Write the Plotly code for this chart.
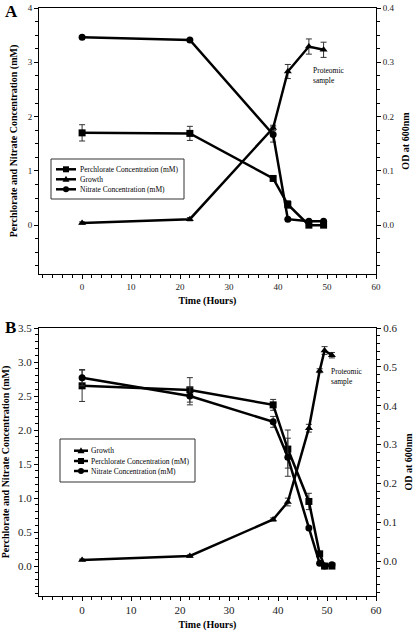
import plotly.graph_objects as go

# ---------------- Panel A data ----------------
time_a = [0, 22, 39, 42, 46.3, 49.3]
perchlorate_a = [1.70, 1.69, 0.86, 0.38, 0.0, 0.0]
perchlorate_a_err = [0.15, 0.13, 0.03, 0.07, 0.0, 0.0]
nitrate_a = [3.46, 3.41, 1.67, 0.11, 0.07, 0.07]
nitrate_a_err = [0.0, 0.0, 0.14, 0.0, 0.0, 0.0]
growth_a = [0.004, 0.011, 0.179, 0.283, 0.329, 0.323]
growth_a_err = [0.002, 0.003, 0.005, 0.013, 0.014, 0.014]

# ---------------- Panel B data ----------------
time_b = [0, 22, 39, 42, 46.3, 48.5, 49.5, 51]
perchlorate_b = [2.65, 2.59, 2.37, 1.72, 0.95, 0.18, 0.0, 0.0]
perchlorate_b_err = [0.23, 0.18, 0.08, 0.28, 0.12, 0.03, 0.0, 0.0]
nitrate_b = [2.77, 2.50, 2.12, 1.60, 0.56, 0.04, 0.0, 0.02]
nitrate_b_err = [0.12, 0.13, 0.08, 0.28, 0.02, 0.0, 0.0, 0.0]
growth_b = [0.003, 0.013, 0.107, 0.152, 0.342, 0.490, 0.542, 0.530]
growth_b_err = [0.002, 0.003, 0.004, 0.010, 0.010, 0.005, 0.010, 0.007]

legend_a_labels = ["Perchlorate Concentration (mM)", "Growth", "Nitrate Concentration (mM)"]
legend_b_labels = ["Growth", "Perchlorate Concentration (mM)", "Nitrate Concentration (mM)"]

W, H = 416, 631
FONT = "Liberation Serif"


def px_x(p):
    return p / W


def px_y(p):
    return 1 - p / H


def trace(x, y, err, name, symbol, xa, ya):
    return go.Scatter(
        x=x, y=y, name=name, mode="lines+markers",
        xaxis=xa, yaxis=ya, showlegend=False,
        line=dict(color="black", width=2.5),
        marker=dict(symbol=symbol, size=7, color="black"),
        error_y=dict(type="data", array=err, visible=True,
                     color="#333333", thickness=1, width=3),
    )


fig = go.Figure()
fig.add_trace(trace(time_a, perchlorate_a, perchlorate_a_err, legend_a_labels[0], "square", "x", "y"))
fig.add_trace(trace(time_a, growth_a, growth_a_err, legend_a_labels[1], "triangle-up", "x", "y2"))
fig.add_trace(trace(time_a, nitrate_a, nitrate_a_err, legend_a_labels[2], "circle", "x", "y"))
fig.add_trace(trace(time_b, growth_b, growth_b_err, legend_b_labels[0], "triangle-up", "x2", "y4"))
fig.add_trace(trace(time_b, perchlorate_b, perchlorate_b_err, legend_b_labels[1], "square", "x2", "y3"))
fig.add_trace(trace(time_b, nitrate_b, nitrate_b_err, legend_b_labels[2], "circle", "x2", "y3"))

xdom = [px_x(39), px_x(376)]
ydomA = [px_y(274), px_y(8)]
ydomB = [px_y(596), px_y(328)]

title_font = dict(family=FONT, size=10, color="black")


def xaxis(dom_anchor, tick_size):
    return dict(
        domain=xdom, anchor=dom_anchor, range=[-8.8, 60],
        tickvals=[0, 10, 20, 30, 40, 50, 60],
        showline=True, linecolor="black", linewidth=1, mirror=True,
        ticks="outside", ticklen=4, tickcolor="black",
        minor=dict(dtick=2, tick0=0, ticks="outside", ticklen=3, tickcolor="black"),
        showgrid=False, zeroline=False,
        tickfont=dict(family=FONT, size=tick_size, color="#222"),
        title=dict(text="<b>Time (Hours)</b>", font=title_font, standoff=6),
        automargin=False,
    )


def yaxis(dom, anchor, rng, dtick, minor, fmt, side, tick_size, title, overlay=None):
    d = dict(
        domain=dom, anchor=anchor, range=rng, dtick=dtick, tick0=0,
        tickformat=fmt, side=side,
        showline=True, linecolor="black", linewidth=1,
        ticks="outside", ticklen=4, tickcolor="black",
        minor=dict(dtick=minor, tick0=0, ticks="outside", ticklen=3, tickcolor="black"),
        showgrid=False, zeroline=False,
        tickfont=dict(family=FONT, size=tick_size, color="#222"),
        title=dict(text=title, font=title_font, standoff=8),
        automargin=False,
    )
    if overlay:
        d["overlaying"] = overlay
    return d


# ---- compact legends drawn with shapes (plotly's native rows are too tall) ----
shapes = []
annotations = []


def legend_box(x0, y0, x1, y1, rows, labels, symbols, sx0, sx1, tx, fsize):
    shapes.append(dict(type="rect", xref="paper", yref="paper",
                       x0=px_x(x0), x1=px_x(x1), y0=px_y(y0), y1=px_y(y1),
                       line=dict(color="#333", width=1), fillcolor="white", layer="above"))
    for yc, lab, sym in zip(rows, labels, symbols):
        shapes.append(dict(type="line", xref="paper", yref="paper",
                           x0=px_x(sx0), x1=px_x(sx1), y0=px_y(yc), y1=px_y(yc),
                           line=dict(color="black", width=2.5), layer="above"))
        cx = (sx0 + sx1) / 2
        r = 3
        if sym == "square":
            shapes.append(dict(type="rect", xref="paper", yref="paper",
                               x0=px_x(cx - r), x1=px_x(cx + r), y0=px_y(yc - r), y1=px_y(yc + r),
                               line=dict(width=0), fillcolor="black", layer="above"))
        elif sym == "circle":
            shapes.append(dict(type="circle", xref="paper", yref="paper",
                               x0=px_x(cx - r), x1=px_x(cx + r), y0=px_y(yc - r), y1=px_y(yc + r),
                               line=dict(width=0), fillcolor="black", layer="above"))
        else:
            path = "M {} {} L {} {} L {} {} Z".format(
                px_x(cx - 3.5), px_y(yc + 2.5), px_x(cx + 3.5), px_y(yc + 2.5),
                px_x(cx), px_y(yc - 3.5))
            shapes.append(dict(type="path", xref="paper", yref="paper", path=path,
                               line=dict(width=0), fillcolor="black", layer="above"))
        annotations.append(dict(text=lab, x=px_x(tx), y=px_y(yc), xref="paper", yref="paper",
                                xanchor="left", yanchor="middle", showarrow=False,
                                font=dict(family=FONT, size=fsize, color="black")))


legend_box(51, 159, 184, 199, [169.3, 179.3, 189.3], legend_a_labels,
           ["square", "triangle", "circle"], 56, 76, 77.5, 7.5)
legend_box(60, 439, 195, 482, [450.7, 461, 471], legend_b_labels,
           ["triangle", "square", "circle"], 74, 88, 88.5, 7.5)

annotations += [
    dict(text="<b>A</b>", x=px_x(3), y=px_y(0), xref="paper", yref="paper",
         xanchor="left", yanchor="top", showarrow=False,
         font=dict(family=FONT, size=17, color="black")),
    dict(text="<b>B</b>", x=px_x(3), y=px_y(316), xref="paper", yref="paper",
         xanchor="left", yanchor="top", showarrow=False,
         font=dict(family=FONT, size=17, color="black")),
    dict(text="Proteomic<br>sample", x=px_x(311), y=px_y(64), xref="paper", yref="paper",
         xanchor="left", yanchor="top", showarrow=False, align="left",
         font=dict(family=FONT, size=7.5, color="black")),
    dict(text="Proteomic<br>sample", x=px_x(329), y=px_y(365), xref="paper", yref="paper",
         xanchor="left", yanchor="top", showarrow=False, align="left",
         font=dict(family=FONT, size=7.5, color="black")),
]

fig.update_layout(
    width=W, height=H,
    margin=dict(l=0, r=0, t=0, b=0),
    paper_bgcolor="white", plot_bgcolor="white",
    font=dict(family=FONT, color="black"),
    showlegend=False,
    xaxis=xaxis("y", 9),
    xaxis2=xaxis("y3", 11),
    yaxis=yaxis(ydomA, "x", [-0.9, 4], 1, 0.25, "d", "left", 9,
                "<b>Perchlorate and Nitrate Concentration (mM)</b>"),
    yaxis2=yaxis(ydomA, "x", [-0.09, 0.4], 0.1, 0.025, ".1f", "right", 9,
                 "<b>OD at 600nm</b>", overlay="y"),
    yaxis3=yaxis(ydomB, "x2", [-0.44, 3.5], 0.5, 0.1, ".1f", "left", 11,
                 "<b>Perchlorate and Nitrate Concentration (mM)</b>"),
    yaxis4=yaxis(ydomB, "x2", [-0.09, 0.6], 0.1, 0.02, ".1f", "right", 11,
                 "<b>OD at 600nm</b>", overlay="y3"),
    shapes=shapes,
    annotations=annotations,
)

fig.write_html("out.html", config={"displayModeBar": False},
               post_script="document.body.style.margin='0';")
